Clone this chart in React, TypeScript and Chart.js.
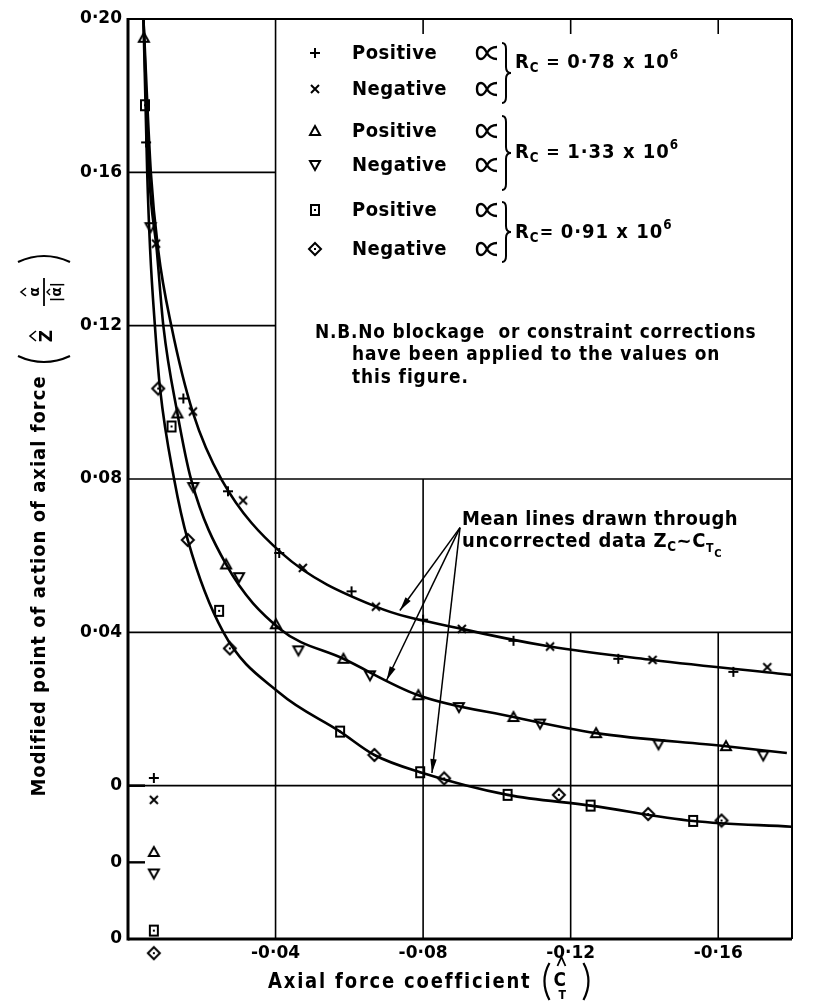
import React, { useEffect, useRef } from 'react';
import { Chart, registerables } from 'chart.js';
Chart.register(...registerables);

// ---------------- data ----------------
// axis ticks
const xTickValues = [-0.04, -0.08, -0.12, -0.16];
const yTickValues = [0.04, 0.08, 0.12, 0.16, 0.2];
// each Reynolds-number group is plotted with its own zero, shifted down by this amount
const groupZeroOffsets = [0, 0.02, 0.04];
const groupReynolds = ['0·78', '1·33', '0·91'];

// Rc = 0.78e6
const plusX = [-0.0049, -0.015, -0.0271, -0.041, -0.0606, -0.08, -0.1045, -0.1329, -0.1641];
const plusY = [0.1678, 0.101, 0.0768, 0.0607, 0.0507, 0.0433, 0.0378, 0.0331, 0.0297];
const crossX = [-0.0076, -0.0176, -0.0312, -0.0474, -0.0672, -0.0905, -0.1144, -0.1422, -0.1733];
const crossY = [0.1414, 0.0976, 0.0744, 0.0568, 0.0467, 0.0409, 0.0363, 0.0328, 0.0309];
// Rc = 1.33e6
const triUpX = [-0.0043, -0.0134, -0.0266, -0.0401, -0.0584, -0.0787, -0.1045, -0.1269, -0.1621];
const triUpY = [0.2151, 0.1171, 0.0777, 0.0621, 0.0531, 0.0436, 0.0379, 0.0337, 0.0303];
const triDownX = [-0.0061, -0.0177, -0.0301, -0.0462, -0.0656, -0.0897, -0.1117, -0.1438, -0.1722];
const triDownY = [0.1657, 0.0979, 0.0744, 0.0553, 0.0488, 0.0405, 0.0362, 0.0308, 0.0279];
// Rc = 0.91e6
const squareX = [-0.0046, -0.0118, -0.0247, -0.0575, -0.0792, -0.1029, -0.1254, -0.1532];
const squareY = [0.2175, 0.1337, 0.0856, 0.0541, 0.0435, 0.0376, 0.0348, 0.0308];
const diamondX = [-0.0082, -0.0162, -0.0276, -0.0668, -0.0857, -0.1168, -0.141, -0.1609];
const diamondY = [0.1436, 0.1041, 0.0758, 0.048, 0.0419, 0.0376, 0.0326, 0.0309];

// mean lines
const meanAX = [-0.0042, -0.0062, -0.0082, -0.0118, -0.0176, -0.0254, -0.0415, -0.0672, -0.0905, -0.1144, -0.1422, -0.1799];
const meanAY = [0.1998, 0.1599, 0.1396, 0.1197, 0.0973, 0.0798, 0.0608, 0.0467, 0.0409, 0.0363, 0.0328, 0.0289];
const meanBX = [-0.0042, -0.0057, -0.0078, -0.0096, -0.0134, -0.0171, -0.0266, -0.0412, -0.0584, -0.0787, -0.1045, -0.1269, -0.1621, -0.1786];
const meanBY = [0.2199, 0.18, 0.1597, 0.1398, 0.1171, 0.0999, 0.0777, 0.0609, 0.0531, 0.0436, 0.0379, 0.0337, 0.0303, 0.0285];
const meanCX = [-0.0042, -0.0052, -0.006, -0.0073, -0.0087, -0.0125, -0.0162, -0.0258, -0.0412, -0.0575, -0.0668, -0.0792, -0.1029, -0.1254, -0.1532, -0.1799];
const meanCY = [0.24, 0.2001, 0.1798, 0.1599, 0.1435, 0.12, 0.1041, 0.0801, 0.0641, 0.0541, 0.048, 0.0435, 0.0376, 0.0348, 0.0308, 0.0293];

// key symbols placed beside each group's zero
const zeroKeyX = -0.007;
const zeroKeyY = [0.002, -0.0037, 0.0027, -0.0029, 0.0022, -0.0037];

// "Mean lines" arrows: common origin (main scale) and tips (group values)
const arrowOriginX = -0.09;
const arrowOriginY = 0.0673;
const arrowTipX = [-0.0737, -0.0701, -0.0824];
const arrowTipY = [0.0457, 0.0475, 0.0433];

const markerSeries = [
  { name: 'Positive', marker: 'plus', group: 0, xs: plusX, ys: plusY },
  { name: 'Negative', marker: 'cross', group: 0, xs: crossX, ys: crossY },
  { name: 'Positive', marker: 'triUp', group: 1, xs: triUpX, ys: triUpY },
  { name: 'Negative', marker: 'triDown', group: 1, xs: triDownX, ys: triDownY },
  { name: 'Positive', marker: 'square', group: 2, xs: squareX, ys: squareY },
  { name: 'Negative', marker: 'diamond', group: 2, xs: diamondX, ys: diamondY },
];
const meanSeries = [
  { group: 0, xs: meanAX, ys: meanAY },
  { group: 1, xs: meanBX, ys: meanBY },
  { group: 2, xs: meanCX, ys: meanCY },
];

// ---------------- helpers ----------------
const FONT = '"DejaVu Sans", sans-serif';

function makeMarker(kind: string): HTMLCanvasElement {
  const s = 16;
  const c = document.createElement('canvas');
  c.width = s;
  c.height = s;
  const g = c.getContext('2d')!;
  g.strokeStyle = '#000';
  g.fillStyle = '#000';
  g.lineWidth = 2;
  const m = 8;
  g.beginPath();
  if (kind === 'plus') {
    g.moveTo(m, m - 5); g.lineTo(m, m + 5); g.moveTo(m - 5, m); g.lineTo(m + 5, m); g.stroke();
  } else if (kind === 'cross') {
    g.moveTo(m - 4, m - 4); g.lineTo(m + 4, m + 4); g.moveTo(m + 4, m - 4); g.lineTo(m - 4, m + 4); g.stroke();
  } else if (kind === 'triUp') {
    g.moveTo(m, m - 5); g.lineTo(m + 5, m + 4); g.lineTo(m - 5, m + 4); g.closePath(); g.stroke();
  } else if (kind === 'triDown') {
    g.moveTo(m, m + 5); g.lineTo(m + 5, m - 4); g.lineTo(m - 5, m - 4); g.closePath(); g.stroke();
  } else if (kind === 'square') {
    g.rect(m - 4, m - 5, 8, 10); g.stroke(); g.fillRect(m - 1, m - 1, 2, 2);
  } else if (kind === 'diamond') {
    g.moveTo(m, m - 6); g.lineTo(m + 6, m); g.lineTo(m, m + 6); g.lineTo(m - 6, m); g.closePath(); g.stroke();
    g.fillRect(m - 1, m - 1, 2, 2);
  }
  return c;
}

type Part = { t: string; size: number; dy?: number };
function runText(ctx: CanvasRenderingContext2D, parts: Part[], x: number, baseline: number, spacing = 0.5, sy = 1.12) {
  let cx = x;
  for (const p of parts) {
    ctx.save();
    ctx.font = `bold ${p.size}px ${FONT}`;
    (ctx as any).letterSpacing = spacing + 'px';
    ctx.textAlign = 'left';
    ctx.textBaseline = 'alphabetic';
    ctx.translate(cx, baseline + (p.dy || 0));
    ctx.scale(1, sy);
    ctx.fillText(p.t, 0, 0);
    const w = ctx.measureText(p.t).width;
    ctx.restore();
    cx += w;
  }
  return cx;
}

// "proportional to" sign drawn as a path (the font glyph is too small)
function propSign(ctx: CanvasRenderingContext2D, cx: number, cy: number) {
  ctx.lineWidth = 2.4;
  ctx.beginPath();
  ctx.moveTo(cx + 10, cy - 6);
  ctx.quadraticCurveTo(cx + 3, cy - 6, cx, cy);
  ctx.quadraticCurveTo(cx - 3, cy + 6, cx - 6, cy + 6);
  ctx.quadraticCurveTo(cx - 10, cy + 6, cx - 10, cy);
  ctx.quadraticCurveTo(cx - 10, cy - 6, cx - 6, cy - 6);
  ctx.quadraticCurveTo(cx - 3, cy - 6, cx, cy);
  ctx.quadraticCurveTo(cx + 3, cy + 6, cx + 10, cy + 6);
  ctx.stroke();
}

function arrow(ctx: CanvasRenderingContext2D, x1: number, y1: number, x2: number, y2: number) {
  ctx.lineWidth = 1.5;
  ctx.beginPath();
  ctx.moveTo(x1, y1);
  ctx.lineTo(x2, y2);
  ctx.stroke();
  const a = Math.atan2(y2 - y1, x2 - x1);
  const L = 14, W = 3.2;
  ctx.beginPath();
  ctx.moveTo(x2, y2);
  ctx.lineTo(x2 - L * Math.cos(a) + W * Math.sin(a), y2 - L * Math.sin(a) - W * Math.cos(a));
  ctx.lineTo(x2 - L * Math.cos(a) - W * Math.sin(a), y2 - L * Math.sin(a) + W * Math.cos(a));
  ctx.closePath();
  ctx.fill();
}

function brace(ctx: CanvasRenderingContext2D, x: number, top: number, bottom: number) {
  const mid = (top + bottom) / 2;
  ctx.lineWidth = 2;
  ctx.beginPath();
  ctx.moveTo(x, top);
  ctx.quadraticCurveTo(x + 4, top, x + 4, top + 6);
  ctx.lineTo(x + 4, mid - 6);
  ctx.quadraticCurveTo(x + 4, mid, x + 9, mid);
  ctx.quadraticCurveTo(x + 4, mid, x + 4, mid + 6);
  ctx.lineTo(x + 4, bottom - 6);
  ctx.quadraticCurveTo(x + 4, bottom, x, bottom);
  ctx.stroke();
}

function fmtTick(v: number) {
  const k = Math.round(Math.abs(v) * 100);
  return (k < 10 ? '0·0' : '0·') + k;
}

export default function App() {
  const ref = useRef<HTMLCanvasElement>(null);

  useEffect(() => {
    const canvas = ref.current!;
    const markers: Record<string, HTMLCanvasElement> = {};
    for (const k of ['plus', 'cross', 'triUp', 'triDown', 'square', 'diamond']) markers[k] = makeMarker(k);

    const datasets: any[] = [];
    meanSeries.forEach((s) => {
      const off = groupZeroOffsets[s.group];
      datasets.push({
        data: s.xs.map((x, i) => ({ x, y: s.ys[i] - off })),
        showLine: true,
        borderColor: '#000',
        borderWidth: 2.6,
        pointRadius: 0,
        fill: false,
        cubicInterpolationMode: 'monotone',
      });
    });
    markerSeries.forEach((s) => {
      const off = groupZeroOffsets[s.group];
      datasets.push({
        data: s.xs.map((x, i) => ({ x, y: s.ys[i] - off })),
        showLine: false,
        pointStyle: markers[s.marker],
        pointRadius: 6,
        borderWidth: 0,
        clip: false,
      });
    });
    markerSeries.forEach((s, i) => {
      const off = groupZeroOffsets[s.group];
      datasets.push({
        data: [{ x: zeroKeyX, y: zeroKeyY[i] - off }],
        showLine: false,
        pointStyle: markers[s.marker],
        pointRadius: 16,
        borderWidth: 0,
        clip: false,
      });
    });

    const decor = {
      id: 'decor',
      beforeDatasetsDraw(chart: any) {
        const ctx: CanvasRenderingContext2D = chart.ctx;
        const { left, right, top, bottom } = chart.chartArea;
        const X = (v: number) => chart.scales.x.getPixelForValue(v);
        const Y = (v: number) => chart.scales.y.getPixelForValue(v);
        ctx.save();
        ctx.strokeStyle = '#000';
        const seg = (x1: number, y1: number, x2: number, y2: number, w: number) => {
          ctx.lineWidth = w;
          ctx.beginPath();
          ctx.moveTo(x1, y1);
          ctx.lineTo(x2, y2);
          ctx.stroke();
        };
        // horizontal grid
        seg(left, Y(0.16), X(-0.04), Y(0.16), 1.6);
        seg(left, Y(0.12), X(-0.04), Y(0.12), 1.6);
        seg(left, Y(0.08), right, Y(0.08), 1.6);
        seg(left, Y(0.04), right, Y(0.04), 1.6);
        seg(left, Y(0), right, Y(0), 1.6);
        seg(left, Y(0), left + 17, Y(0), 2.6);
        seg(left, Y(-0.02), left + 17, Y(-0.02), 2.4);
        // vertical grid
        seg(X(-0.04), top, X(-0.04), bottom, 1.6);
        seg(X(-0.08), top, X(-0.08), top + 15, 1.6);
        seg(X(-0.08), Y(0.08), X(-0.08), bottom, 1.6);
        for (const v of [-0.12, -0.16]) {
          seg(X(v), top, X(v), top + 15, 1.6);
          seg(X(v), Y(0.04), X(v), bottom, 1.6);
        }
        // frame
        seg(left, top, right, top, 2);
        seg(right, top, right, bottom, 2);
        seg(left, top - 1, left, bottom + 1.5, 3);
        seg(left, bottom, right, bottom, 3);
        ctx.restore();
      },
      afterDraw(chart: any) {
        const ctx: CanvasRenderingContext2D = chart.ctx;
        const X = (v: number) => chart.scales.x.getPixelForValue(v);
        const Y = (v: number) => chart.scales.y.getPixelForValue(v);
        ctx.save();
        ctx.fillStyle = '#000';
        ctx.strokeStyle = '#000';

        // legend
        const rowBase = [59, 95, 137, 171, 216, 255];
        markerSeries.forEach((s, i) => {
          const m = markers[s.marker];
          ctx.drawImage(m, 315 - 8, rowBase[i] - 6 - 8);
          runText(ctx, [{ t: s.name, size: 18 }], 352, rowBase[i]);
          propSign(ctx, 487, rowBase[i] - 6);
        });
        const braces = [[43, 103], [116, 190], [202, 262]];
        const rcBase = [68, 158, 238];
        braces.forEach((b, i) => {
          brace(ctx, 502, b[0], b[1]);
          runText(ctx, [
            { t: 'R', size: 18 },
            { t: 'C', size: 12, dy: 4 },
            { t: i === 2 ? '= ' : ' = ', size: 16 },
            { t: groupReynolds[i] + ' x 10', size: 18 },
            { t: '6', size: 12, dy: -9 },
          ], 515, rcBase[i], 1);
        });

        // note
        runText(ctx, [{ t: 'N.B.No blockage  or constraint corrections', size: 17 }], 315, 338, 0.8);
        runText(ctx, [{ t: 'have been applied to the values on', size: 17 }], 352, 360, 0.9);
        runText(ctx, [{ t: 'this figure.', size: 17 }], 352, 383, 0.9);

        // mean lines annotation
        runText(ctx, [{ t: 'Mean lines drawn through', size: 18 }], 462, 525, 0.4);
        runText(ctx, [
          { t: 'uncorrected data Z', size: 18 },
          { t: 'C', size: 12, dy: 4 },
          { t: '~C', size: 18 },
          { t: 'T', size: 11, dy: 5 },
          { t: 'C', size: 10, dy: 10 },
        ], 462, 547, 0.6);
        const ox = X(arrowOriginX), oy = Y(arrowOriginY);
        for (let i = 0; i < 3; i++) {
          arrow(ctx, ox, oy, X(arrowTipX[i]), Y(arrowTipY[i] - groupZeroOffsets[i]));
        }

        // x title
        const cx = runText(ctx, [{ t: 'Axial force coefficient', size: 18 }], 268, 988, 1.8, 1.15);
        ctx.lineWidth = 2.2;
        const px = cx + 14;
        ctx.beginPath();
        ctx.moveTo(px + 4, 963);
        ctx.quadraticCurveTo(px - 6, 981, px + 4, 1000);
        ctx.stroke();
        runText(ctx, [{ t: 'C', size: 17 }], px + 8, 986, 0, 1.15);
        runText(ctx, [{ t: 'T', size: 11 }], px + 13, 999, 0, 1.1);
        ctx.lineWidth = 1.8;
        ctx.beginPath();
        ctx.moveTo(px + 12, 966);
        ctx.lineTo(px + 16, 957);
        ctx.lineTo(px + 20, 966);
        ctx.stroke();
        ctx.lineWidth = 2.2;
        ctx.beginPath();
        ctx.moveTo(px + 38, 963);
        ctx.quadraticCurveTo(px + 48, 981, px + 38, 1000);
        ctx.stroke();

        // y title (rotated)
        ctx.save();
        ctx.translate(40, 586);
        ctx.rotate(-Math.PI / 2);
        ctx.scale(1, 1.12);
        ctx.font = `bold 18px ${FONT}`;
        (ctx as any).letterSpacing = '1px';
        ctx.textAlign = 'center';
        ctx.textBaseline = 'middle';
        ctx.fillText('Modified point of action of axial force', 0, 0);
        ctx.restore();

        ctx.save();
        ctx.translate(44, 310);
        ctx.rotate(-Math.PI / 2);
        ctx.lineWidth = 2.2;
        ctx.beginPath();
        ctx.moveTo(-46, -26);
        ctx.quadraticCurveTo(-58, 0, -46, 26);
        ctx.stroke();
        ctx.beginPath();
        ctx.moveTo(48, -26);
        ctx.quadraticCurveTo(60, 0, 48, 26);
        ctx.stroke();
        ctx.font = `bold 17px ${FONT}`;
        ctx.textAlign = 'center';
        ctx.textBaseline = 'middle';
        ctx.fillText('Z', -26, 4);
        ctx.lineWidth = 1.6;
        ctx.beginPath();
        ctx.moveTo(-31, -8); ctx.lineTo(-26, -14); ctx.lineTo(-21, -8);
        ctx.stroke();
        ctx.font = `bold 14px ${FONT}`;
        ctx.fillText('α', 18, -9);
        ctx.beginPath();
        ctx.moveTo(14, -18); ctx.lineTo(18, -23); ctx.lineTo(22, -18);
        ctx.stroke();
        ctx.lineWidth = 1.8;
        ctx.beginPath();
        ctx.moveTo(4, 0); ctx.lineTo(32, 0);
        ctx.stroke();
        ctx.fillText('|α|', 18, 13);
        ctx.lineWidth = 1.4;
        ctx.beginPath();
        ctx.moveTo(15, 6); ctx.lineTo(18, 3); ctx.lineTo(21, 6);
        ctx.stroke();
        ctx.restore();

        ctx.restore();
      },
    };

    const chart = new Chart(canvas, {
      type: 'scatter',
      data: { datasets },
      options: {
        animation: false,
        responsive: false,
        events: [],
        layout: { padding: { top: 19, right: 35, left: 0, bottom: 0 } },
        plugins: { legend: { display: false }, tooltip: { enabled: false } },
        scales: {
          x: {
            type: 'linear',
            min: -0.18,
            max: 0,
            reverse: true,
            afterFit: (s: any) => { s.height = 65; },
            grid: { display: false, drawTicks: false },
            border: { display: false },
            ticks: {
              stepSize: 0.02,
              autoSkip: false,
              maxRotation: 0,
              padding: 4,
              color: '#000',
              font: { family: FONT, size: 17, weight: 'bold' },
              callback: (v: any) => {
                const n = Number(v);
                return xTickValues.some((t) => Math.abs(t - n) < 1e-6) ? '-' + fmtTick(n) : '';
              },
            },
          },
          y: {
            type: 'linear',
            min: -0.04,
            max: 0.2,
            afterFit: (s: any) => { s.width = 128; },
            grid: { display: false, drawTicks: false },
            border: { display: false },
            ticks: {
              stepSize: 0.02,
              autoSkip: false,
              padding: 6,
              color: '#000',
              font: { family: FONT, size: 17, weight: 'bold' },
              callback: (v: any) => {
                const n = Number(v);
                if (yTickValues.some((t) => Math.abs(t - n) < 1e-6)) return fmtTick(n);
                if (groupZeroOffsets.some((o) => Math.abs(-o - n) < 1e-6)) return '0';
                return '';
              },
            },
          },
        },
      },
      plugins: [decor],
    } as any);

    return () => chart.destroy();
  }, []);

  return (
    <div style={{ position: 'fixed', left: 0, top: 0, width: 827, height: 1004, background: '#fff' }}>
      <canvas ref={ref} width={827} height={1004} style={{ display: 'block', width: 827, height: 1004 }} />
    </div>
  );
}
